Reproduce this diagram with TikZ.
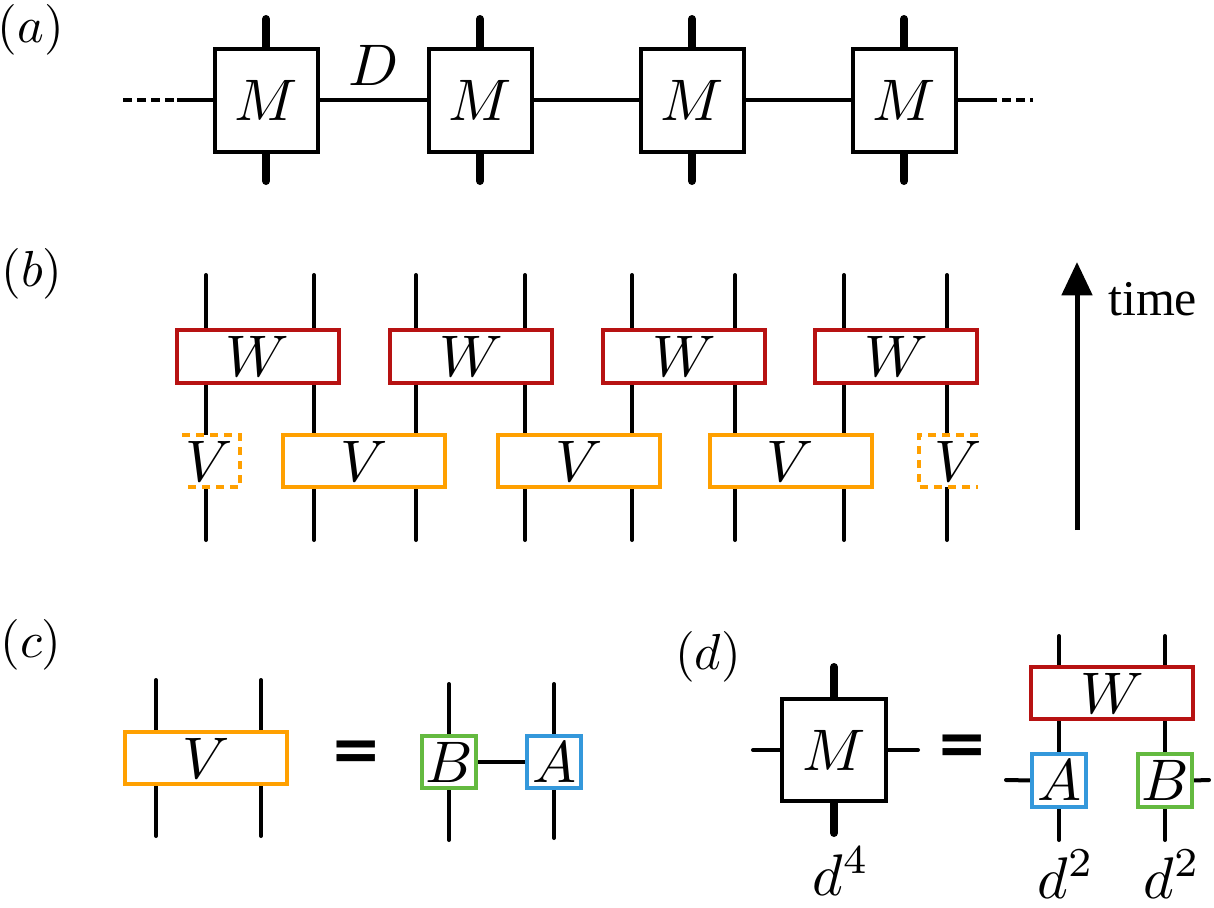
\documentclass[tikz,border=0pt]{standalone}
\usepackage[no-math]{fontspec}
\newfontfamily\timefont{Liberation Serif}
\newfontfamily\eqfont{DejaVu Sans}
\usetikzlibrary{arrows.meta}
\pgfdeclarelayer{bg}
\pgfsetlayers{bg,main}
\definecolor{wred}{RGB}{183,18,18}
\definecolor{vorange}{RGB}{255,160,0}
\definecolor{bgreen}{RGB}{100,186,64}
\definecolor{ablue}{RGB}{52,152,219}
\newcommand{\tnl}[1]{\scalebox{4.4}{$#1$}}
\newcommand{\plab}[1]{\scalebox{3.8}{$(#1)$}}
\newcommand{\myeq}{\textbf{=}}
\tikzset{
  plabel/.style={inner sep=0pt},
  tn/.style={draw, line width=3pt, fill=white, inner sep=0pt, outer sep=0pt},
  mbox/.style={tn, minimum width=77.25pt, minimum height=77.25pt},
  mdbox/.style={tn, minimum width=78pt, minimum height=76.5pt},
  wbox/.style={tn, draw=wred, minimum width=121.5pt, minimum height=39.5pt},
  vbox/.style={tn, draw=vorange, minimum width=121.5pt, minimum height=39.5pt},
  abox/.style={tn, draw=ablue, minimum width=41pt, minimum height=39.5pt},
  bbox/.style={tn, draw=bgreen, minimum width=41pt, minimum height=39.5pt},
  leg/.style={line width=3pt, line cap=round},
  thickleg/.style={line width=6pt, line cap=round},
  bond/.style={line width=2.6pt},
  dots/.style={line width=2.6pt, dash pattern=on 6.75pt off 3.75pt},
  vdash/.style={draw=vorange, line width=3pt, dash pattern=on 6pt off 4.5pt},
  eqsign/.style={font=\eqfont\fontsize{46}{50}\selectfont, inner sep=0pt},
  lab/.style={inner sep=0pt},
}
\begin{document}
\begin{tikzpicture}[x=0.75pt, y=-0.75pt]
\useasboundingbox (0,0) rectangle (1214,907);

% ---------- panel labels ----------
\node[plabel] (la) at (31,30) {\plab{a}};
\node[plabel] (lb) at (32,274) {\plab{b}};
\node[plabel] (lc) at (31,645) {\plab{c}};
\node[plabel] (ld) at (708,657) {\plab{d}};

% ---------- (a) MPS of M ----------
\foreach \i/\x in {1/266,2/480,3/692,4/904}{
  \node[mbox] (m\i) at (\x,100) {\tnl{M}};
  \coordinate (m\i t) at (\x,19);
  \coordinate (m\i b) at (\x,181);
}
\coordinate (aL) at (177,100);
\coordinate (aLd) at (123,100);
\coordinate (aR) at (988,100);
\coordinate (aRd) at (1033,100);
\node[lab, anchor=base] (Dlab) at (374,85) {\tnl{D}};
\begin{pgfonlayer}{bg}
  \foreach \i in {1,2,3,4}{
    \draw[thickleg] (m\i.north) -- (m\i t);
    \draw[thickleg] (m\i.south) -- (m\i b);
  }
  \draw[bond] (aL) -- (m1.west);
  \draw[bond] (m1.east) -- (m2.west);
  \draw[bond] (m2.east) -- (m3.west);
  \draw[bond] (m3.east) -- (m4.west);
  \draw[bond] (m4.east) -- (aR);
  \draw[dots] (aLd) -- (aL);
  \draw[dots] (aR) -- (aRd);
\end{pgfonlayer}

% ---------- (b) brick-wall circuit ----------
\foreach \i/\x in {1/206,2/314,3/416,4/525,5/632,6/735,7/844,8/947}{
  \coordinate (bt\i) at (\x,275);
  \coordinate (bb\i) at (\x,540);
}
\begin{pgfonlayer}{bg}
  \foreach \i in {1,...,8}{
    \draw[leg] (bt\i) -- (bb\i);
  }
\end{pgfonlayer}
\node[wbox] (w1) at (257.5,356.5) {\tnl{W}};
\node[wbox] (w2) at (471,356.5) {\tnl{W}};
\node[wbox] (w3) at (684,356.5) {\tnl{W}};
\node[wbox] (w4) at (896,356.5) {\tnl{W}};
\node[vbox] (v2) at (364,461) {\tnl{V}};
\node[vbox] (v3) at (579,461) {\tnl{V}};
\node[vbox] (v4) at (790.5,461) {\tnl{V}};
% dashed partial gates
\fill[white] (182,435) rectangle (240,487);
\draw[vdash] (182,435) -- (240,435) -- (240,487) -- (182,487);
\node[lab] (v1) at (209,461) {\tnl{V}};
\fill[white] (919,435) rectangle (978,487);
\draw[vdash] (978,435) -- (919,435) -- (919,487) -- (978,487);
\node[lab] (v5) at (958,461) {\tnl{V}};
% time arrow
\coordinate (ta) at (1077,530);
\coordinate (tb) at (1077,262);
\draw[line width=3.75pt, -{Triangle[width=22.5pt,length=25pt]}] (ta) -- (tb);
\node[font=\timefont\fontsize{37.5}{42}\selectfont, inner sep=0pt, anchor=base west] (time) at (1108,315) {time};

% ---------- (c) V = B A ----------
\node[vbox] (vc) at (206,758) {\tnl{V}};
\node[eqsign] (eqC) at (356,756) {\myeq};
\node[bbox] (bc) at (449,762) {\tnl{B}};
\node[abox] (ac) at (554,762) {\tnl{A}};
\coordinate (c1t) at (156,680); \coordinate (c1b) at (156,836);
\coordinate (c2t) at (261,680); \coordinate (c2b) at (261,836);
\coordinate (c3t) at (449,684); \coordinate (c3b) at (449,840);
\coordinate (c4t) at (554,684); \coordinate (c4b) at (554,838);
\begin{pgfonlayer}{bg}
  \draw[leg] (c1t) -- (c1b);
  \draw[leg] (c2t) -- (c2b);
  \draw[leg] (c3t) -- (bc.north);
  \draw[leg] (bc.south) -- (c3b);
  \draw[leg] (c4t) -- (ac.north);
  \draw[leg] (ac.south) -- (c4b);
  \draw[line width=3pt] (bc.east) -- (ac.west);
\end{pgfonlayer}

% ---------- (d) M = W (A x B) ----------
\node[mdbox] (md) at (834,750) {\tnl{M}};
\coordinate (mdt) at (834,667);
\coordinate (mdb) at (834,833);
\coordinate (mdl) at (753,750);
\coordinate (mdr) at (918,750);
\node[eqsign] (eqD) at (962,750) {\myeq};
\node[wbox] (wd) at (1112,693) {\tnl{W}};
\node[abox] (ad) at (1059,780.5) {\tnl{A}};
\node[bbox] (bd) at (1165,780.5) {\tnl{B}};
\coordinate (d1t) at (1059,636); \coordinate (d1b) at (1059,840);
\coordinate (d2t) at (1165,636); \coordinate (d2b) at (1165,840);
\coordinate (dal) at (1006,780);
\coordinate (dbr) at (1209,780);
\begin{pgfonlayer}{bg}
  \draw[thickleg] (md.north) -- (mdt);
  \draw[thickleg] (md.south) -- (mdb);
  \draw[leg] (mdl) -- (md.west);
  \draw[leg] (md.east) -- (mdr);
  \draw[leg] (d1t) -- (d1b);
  \draw[leg] (d2t) -- (d2b);
  \draw[leg] (dal) -- (ad.west);
  \draw[leg] (bd.east) -- (dbr);
\end{pgfonlayer}
\node[lab, anchor=base] (d4) at (841,895) {\tnl{d^4}};
\node[lab, anchor=base] (d2a) at (1066,898) {\tnl{d^2}};
\node[lab, anchor=base] (d2b) at (1172,898) {\tnl{d^2}};
\end{tikzpicture}
\end{document}
